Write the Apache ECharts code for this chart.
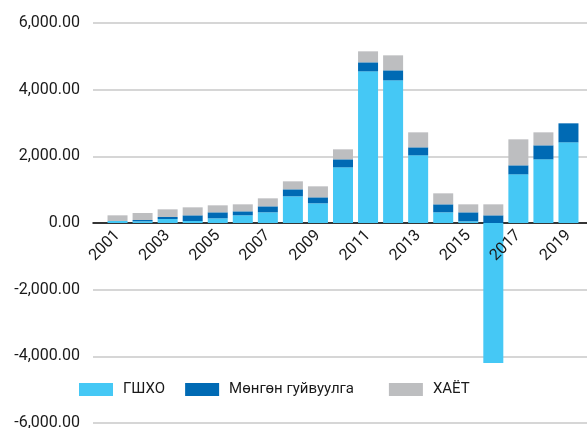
<!DOCTYPE html>
<html>
<head>
<meta charset="utf-8">
<script src="https://cdn.jsdelivr.net/npm/echarts@6/dist/echarts.min.js"></script>
<style>
  html, body { margin: 0; padding: 0; background: #fff; }
  #chart { width: 587px; height: 428px; }
</style>
</head>
<body>
<div id="chart"></div>
<script>
// Years on the category axis
const years = ['2001','2002','2003','2004','2005','2006','2007','2008','2009','2010',
               '2011','2012','2013','2014','2015','2016','2017','2018','2019'];
// ГШХО
const fdi = [60, 50, 120, 60, 140, 230, 320, 800, 590, 1670,
             4550, 4280, 2030, 320, 50, -4200, 1460, 1910, 2420];
// Мөнгөн гуйвуулга
const remit = [0, 40, 60, 170, 180, 120, 180, 210, 180, 240,
               270, 300, 240, 240, 270, 230, 270, 420, 570];
// ХАЁТ
const oda = [170, 210, 230, 240, 210, 210, 240, 240, 330, 300,
             330, 450, 450, 330, 240, 330, 780, 390, 0];
// Value axis ticks
const yTicks = [-6000, -4000, -2000, 0, 2000, 4000, 6000];

const FONT = 'Roboto';
const fmt = v => v.toLocaleString('en-US', { minimumFractionDigits: 2, maximumFractionDigits: 2 });

const chart = echarts.init(document.getElementById('chart'), null, { renderer: 'canvas' });

const yMin = yTicks[0], yMax = yTicks[yTicks.length - 1], yStep = yTicks[1] - yTicks[0];

chart.setOption({
  animation: false,
  backgroundColor: '#ffffff',
  grid: [
    // full-width grid: value labels, grid lines and zero line
    { left: 93, right: 0, top: 23, bottom: 5, containLabel: false, outerBoundsMode: 'none' },
    // bar grid: spans the positive half, its bottom edge is the zero line;
    // negative bars are allowed to extend below it
    { left: 105, right: 6, top: 23, bottom: 205, containLabel: false, outerBoundsMode: 'none' }
  ],
  xAxis: [
    {
      gridIndex: 0, type: 'category', data: ['_'],
      axisLine: { show: true, onZero: true, lineStyle: { color: '#000', width: 1.5 } },
      axisTick: { show: false }, axisLabel: { show: false }, splitLine: { show: false }
    },
    {
      gridIndex: 1, type: 'category', data: years, z: 10,
      axisLine: { show: false },
      axisTick: { show: false },
      axisLabel: {
        interval: 1, rotate: 45, margin: 10,
        color: '#1a1a1a', fontFamily: FONT, fontSize: 16
      }
    }
  ],
  yAxis: [
    {
      gridIndex: 0, type: 'value', min: yMin, max: yMax, interval: yStep,
      axisLine: { show: false }, axisTick: { show: false },
      axisLabel: { margin: 13, color: '#1a1a1a', fontFamily: FONT, fontSize: 16, formatter: fmt },
      splitLine: { show: true, lineStyle: { color: '#c8c8c8', width: 1.5 } }
    },
    {
      gridIndex: 1, type: 'value', min: 0, max: yMax, interval: yStep,
      show: false, splitLine: { show: false }
    }
  ],
  legend: {
    left: 79, top: 382, padding: 0,
    itemWidth: 34, itemHeight: 13, itemGap: 20,
    icon: 'rect',
    textStyle: { color: '#1a1a1a', fontFamily: FONT, fontSize: 15, padding: [0, 0, 0, 5] },
    // extra room after the long entry
    formatter: name => name === 'Мөнгөн гуйвуулга' ? name + '\u00a0\u00a0\u00a0\u00a0' : name,
    data: ['ГШХО', 'Мөнгөн гуйвуулга', 'ХАЁТ']
  },
  series: [
    { name: 'ГШХО', type: 'bar', stack: 'total', xAxisIndex: 1, yAxisIndex: 1,
      barWidth: 20, clip: false, data: fdi, itemStyle: { color: '#45c8f5' } },
    { name: 'Мөнгөн гуйвуулга', type: 'bar', stack: 'total', xAxisIndex: 1, yAxisIndex: 1,
      barWidth: 20, clip: false, data: remit, itemStyle: { color: '#006ab4' } },
    { name: 'ХАЁТ', type: 'bar', stack: 'total', xAxisIndex: 1, yAxisIndex: 1,
      barWidth: 20, clip: false, data: oda, itemStyle: { color: '#bdbec0' } }
  ]
});
</script>
</body>
</html>
